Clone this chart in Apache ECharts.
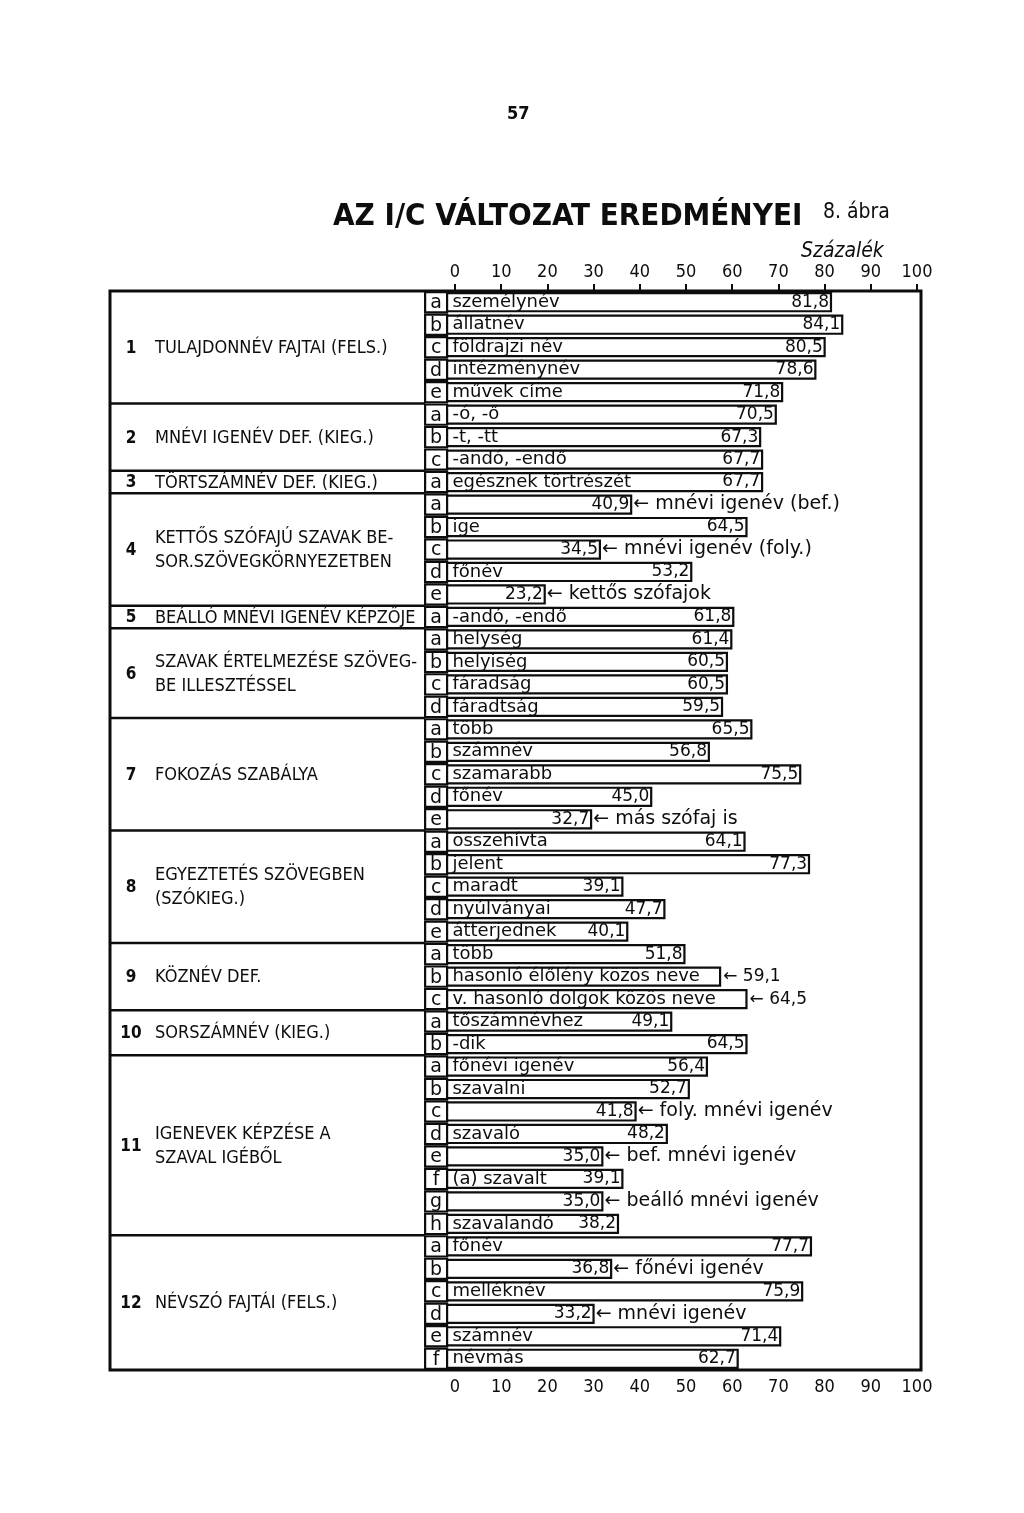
<!DOCTYPE html>
<html>
<head>
<meta charset="utf-8">
<script src="https://cdn.jsdelivr.net/npm/echarts@6/dist/echarts.min.js"></script>
<style>
  html, body { margin: 0; padding: 0; background: #fff; }
  #chart { width: 1024px; height: 1513px; }
</style>
</head>
<body>
<div id="chart"></div>
<script>
// csoportok (bal oldali oszlop)
const groupNums = ['1', '2', '3', '4', '5', '6', '7', '8', '9', '10', '11', '12']
const groupNames = [
  'TULAJDONNÉV FAJTAI (FELS.)',
  'MNÉVI IGENÉV DEF. (KIEG.)',
  'TÖRTSZÁMNÉV DEF. (KIEG.)',
  'KETTŐS SZÓFAJÚ SZAVAK BE-\nSOR.SZÖVEGKÖRNYEZETBEN',
  'BEÁLLÓ MNÉVI IGENÉV KÉPZŐJE',
  'SZAVAK ÉRTELMEZÉSE SZÖVEG-\nBE ILLESZTÉSSEL',
  'FOKOZÁS SZABÁLYA',
  'EGYEZTETÉS SZÖVEGBEN\n(SZÓKIEG.)',
  'KÖZNÉV DEF.',
  'SORSZÁMNÉV (KIEG.)',
  'IGENEVEK KÉPZÉSE A\nSZAVAL IGÉBŐL',
  'NÉVSZÓ FAJTÁI (FELS.)'
]
const groupSizes = [5, 3, 1, 5, 1, 4, 5, 5, 3, 2, 8, 6]

// sorok
const rowLetters = [
  'a', 'b', 'c', 'd', 'e',
  'a', 'b', 'c',
  'a',
  'a', 'b', 'c', 'd', 'e',
  'a',
  'a', 'b', 'c', 'd',
  'a', 'b', 'c', 'd', 'e',
  'a', 'b', 'c', 'd', 'e',
  'a', 'b', 'c',
  'a', 'b',
  'a', 'b', 'c', 'd', 'e', 'f', 'g', 'h',
  'a', 'b', 'c', 'd', 'e', 'f'
]
const rowNames = [
  'személynév', 'állatnév', 'földrajzi név', 'intézménynév', 'művek címe',
  '-ó, -ő', '-t, -tt', '-andó, -endő',
  'egésznek törtrészét',
  '', 'ige', '', 'főnév', '',
  '-andó, -endő',
  'helység', 'helyiség', 'fáradság', 'fáradtság',
  'több', 'számnév', 'szamarabb', 'főnév', '',
  'összehívta', 'jelent', 'maradt', 'nyúlványai', 'átterjednek',
  'több', 'hasonló élőlény közös neve', 'v. hasonló dolgok közös neve',
  'tőszámnévhez', '-dik',
  'főnévi igenév', 'szavalni', '', 'szavaló', '', '(a) szavalt', '', 'szavalandó',
  'főnév', '', 'melléknév', '', 'számnév', 'névmás'
]
const rowValues = [
  81.8, 84.1, 80.5, 78.6, 71.8,
  70.5, 67.3, 67.7,
  67.7,
  40.9, 64.5, 34.5, 53.2, 23.2,
  61.8,
  61.4, 60.5, 60.5, 59.5,
  65.5, 56.8, 75.5, 45.0, 32.7,
  64.1, 77.3, 39.1, 47.7, 40.1,
  51.8, 59.1, 64.5,
  49.1, 64.5,
  56.4, 52.7, 41.8, 48.2, 35.0, 39.1, 35.0, 38.2,
  77.7, 36.8, 75.9, 33.2, 71.4, 62.7
]
const rowNotes = [
  '', '', '', '', '',
  '', '', '',
  '',
  'mnévi igenév (bef.)', '', 'mnévi igenév (foly.)', '', 'kettős szófajok',
  '',
  '', '', '', '',
  '', '', '', '', 'más szófaj is',
  '', '', '', '', '',
  '', '', '',
  '', '',
  '', '', 'foly. mnévi igenév', '', 'bef. mnévi igenév', '', 'beálló mnévi igenév', '',
  '', 'főnévi igenév', '', 'mnévi igenév', '', ''
]
// sorok, ahol az érték a sáv után áll
const valueOutside = [30, 31]

const ink = '#0d0d0d'
const hand = "'DejaVu Sans Condensed', 'Liberation Sans Narrow', sans-serif"
const wide = "'DejaVu Sans', sans-serif"
const letterFrom = -1.5
const letterTo = 3.0

const fmt = v => v.toFixed(1).replace('.', ',')
const rowIds = rowValues.map((v, i) => String(i))

// csoport-határok
let start = 0
const groupData = groupSizes.map((n, i) => {
  const item = [0, start, start + n - 1, i]
  start += n
  return item
})

const barData = rowValues.map((v, i) => {
  if (valueOutside.indexOf(i) >= 0) {
    return { value: v, label: { position: 'right', distance: 2, formatter: '← ' + fmt(v) } }
  }
  return v
})
const nameData = rowValues.map((v, i) => {
  if (rowNotes[i]) {
    return { value: v, label: { position: 'right', distance: 1, fontSize: 19, formatter: '← ' + rowNotes[i] } }
  }
  return { value: v, label: { formatter: rowNames[i] } }
})

const chart = echarts.init(document.getElementById('chart'))
const option = {
  animation: false,
  backgroundColor: '#fff',
  title: [
    { text: '57', left: 502, top: 100, textStyle: { fontFamily: hand, fontSize: 18, fontWeight: 'bold', color: ink } },
    { text: 'AZ I/C VÁLTOZAT EREDMÉNYEI', left: 328, top: 196, textStyle: { fontFamily: hand, fontSize: 31, fontWeight: 'bold', color: ink } },
    { text: '8. ábra', left: 818, top: 197, textStyle: { fontFamily: hand, fontSize: 21, fontWeight: 'normal', color: ink } },
    { text: 'Százalék', left: 796, top: 236, textStyle: { fontFamily: hand, fontSize: 21, fontStyle: 'italic', fontWeight: 'normal', color: ink } }
  ],
  grid: [
    { left: 110, right: 103, top: 291, bottom: 143, show: true, borderColor: ink, borderWidth: 3, backgroundColor: 'transparent' },
    { left: 455, right: 107, top: 291, bottom: 143, show: false }
  ],
  xAxis: [
    { gridIndex: 0, type: 'value', min: -66, max: 100, show: false },
    {
      gridIndex: 1, type: 'value', position: 'top', min: 0, max: 100, interval: 10,
      axisLine: { show: false, onZero: false },
      axisTick: { show: true, length: 7, lineStyle: { color: ink, width: 2 } },
      axisLabel: { color: ink, fontFamily: hand, fontSize: 18, margin: 10 },
      splitLine: { show: false }
    },
    {
      gridIndex: 1, type: 'value', position: 'bottom', min: 0, max: 100, interval: 10,
      axisLine: { show: false, onZero: false },
      axisTick: { show: false },
      axisLabel: { color: ink, fontFamily: hand, fontSize: 18, margin: 8 },
      splitLine: { show: false }
    }
  ],
  yAxis: [
    { gridIndex: 0, type: 'category', data: rowIds, inverse: true, show: false },
    { gridIndex: 1, type: 'value', min: 0, max: 1, show: false }
  ],
  series: [
    {
      name: 'sávok',
      type: 'bar',
      xAxisIndex: 0,
      yAxisIndex: 0,
      data: barData,
      barWidth: '90%',
      itemStyle: { color: '#fff', borderColor: ink, borderWidth: 2.2 },
      label: {
        show: true,
        position: 'insideRight',
        distance: 3,
        color: ink,
        fontFamily: wide,
        fontSize: 17,
        formatter: p => fmt(p.value)
      },
      z: 2
    },
    {
      name: 'nevek',
      type: 'bar',
      xAxisIndex: 0,
      yAxisIndex: 0,
      data: nameData,
      barWidth: '90%',
      barGap: '-100%',
      itemStyle: { color: 'transparent' },
      label: {
        show: true,
        position: 'insideLeft',
        distance: 20,
        color: ink,
        fontFamily: wide,
        fontSize: 18
      },
      z: 4
    },
    {
      name: 'betűk',
      type: 'custom',
      xAxisIndex: 0,
      yAxisIndex: 0,
      data: rowLetters.map((l, i) => [0, i]),
      encode: { x: 0, y: 1 },
      renderItem(params, api) {
        const row = api.value(1)
        const h = api.size([0, 1])[1] * 0.9
        const a = api.coord([letterFrom, row])
        const b = api.coord([letterTo, row])
        return {
          type: 'group',
          children: [
            {
              type: 'rect',
              shape: { x: a[0], y: a[1] - h / 2, width: b[0] - a[0], height: h },
              style: { fill: '#fff', stroke: ink, lineWidth: 2.2 }
            },
            {
              type: 'text',
              style: {
                x: (a[0] + b[0]) / 2, y: a[1] + 1,
                text: rowLetters[params.dataIndex],
                fill: ink, font: '19px ' + wide,
                textAlign: 'center', textVerticalAlign: 'middle'
              }
            }
          ]
        }
      },
      z: 5
    },
    {
      name: 'csoportok',
      type: 'custom',
      xAxisIndex: 0,
      yAxisIndex: 0,
      data: groupData,
      encode: { x: 0, y: 1 },
      renderItem(params, api) {
        const s = api.value(1)
        const e = api.value(2)
        const i = api.value(3)
        const rh = api.size([0, 1])[1]
        const top = api.coord([0, s])[1] - rh / 2
        const bottom = api.coord([0, e])[1] + rh / 2
        const mid = (top + bottom) / 2
        const x0 = params.coordSys.x
        const x1 = api.coord([letterFrom, 0])[0]
        const children = [
          {
            type: 'text',
            style: {
              x: x0 + 21, y: mid + 1, text: groupNums[i],
              fill: ink, font: 'bold 17px ' + hand,
              textAlign: 'center', textVerticalAlign: 'middle'
            }
          },
          {
            type: 'text',
            style: {
              x: x0 + 45, y: mid + 1, text: groupNames[i],
              fill: ink, font: '18px ' + hand, lineHeight: 24,
              textAlign: 'left', textVerticalAlign: 'middle'
            }
          }
        ]
        if (i < groupSizes.length - 1) {
          children.push({
            type: 'line',
            shape: { x1: x0, y1: bottom, x2: x1, y2: bottom },
            style: { stroke: ink, lineWidth: 2.5 }
          })
        }
        return { type: 'group', children }
      },
      z: 5
    },
    {
      name: 'skála',
      type: 'line',
      xAxisIndex: 1,
      yAxisIndex: 1,
      data: []
    }
  ]
}
chart.setOption(option)
window.addEventListener('resize', () => {
  chart.resize()
})
</script>
</body>
</html>
